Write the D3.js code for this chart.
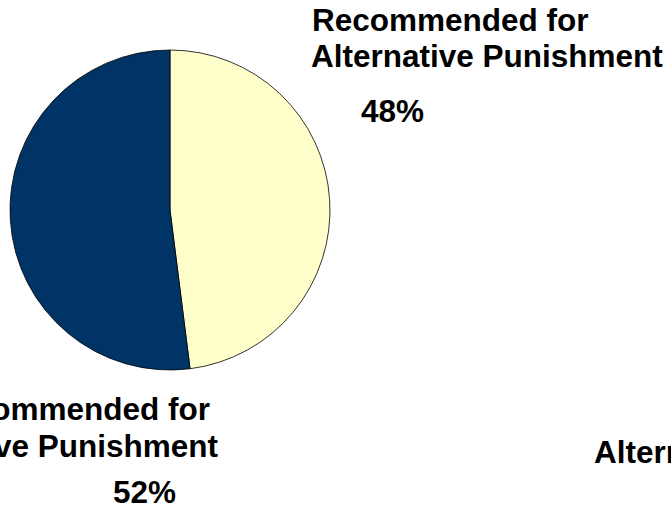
<!DOCTYPE html>
<html><head><meta charset="utf-8">
<script src="https://cdn.jsdelivr.net/npm/d3@7"></script>
<style>html,body{margin:0;padding:0;background:#fff;overflow:hidden}</style>
</head><body>
<svg id="chart" width="671" height="508"></svg>
<script>
const categories = ["Recommended for Alternative Punishment", "Not Recommended for Alternative Punishment"];
const values = [48, 52];
const percentLabels = ["48%", "52%"];
const colors = ["#FFFFCC", "#003366"];

const svg = d3.select("#chart");
const cx = 170, cy = 210, r = 160;

const pie = d3.pie().sort(null).value(d => d)(values);
const arc = d3.arc().innerRadius(0).outerRadius(r);

const g = svg.append("g").attr("transform", `translate(${cx},${cy})`);
g.selectAll("path").data(pie).enter().append("path")
  .attr("d", arc)
  .attr("fill", (d, i) => colors[i])
  .attr("stroke", "#000")
  .attr("stroke-width", 0.8);

const font = "'Liberation Sans', Arial, sans-serif";
function txt(x, y, s, anchor) {
  svg.append("text").attr("x", x).attr("y", y).attr("text-anchor", anchor || "start")
    .attr("font-family", font).attr("font-weight", "bold").attr("font-size", 31.5)
    .attr("fill", "#000").text(s);
}
// label for slice 0 (top right)
txt(312, 31, "Recommended for");
txt(311, 67, "Alternative Punishment");
txt(361, 122, percentLabels[0]);
// label for slice 1 (bottom left)
txt(210, 420, "Not Recommended for", "end");
txt(218, 457, "Alternative Punishment", "end");
txt(113, 503, percentLabels[1]);
// partially visible text at right
txt(594, 463, "Alternative Punishment");
</script>
</body></html>
